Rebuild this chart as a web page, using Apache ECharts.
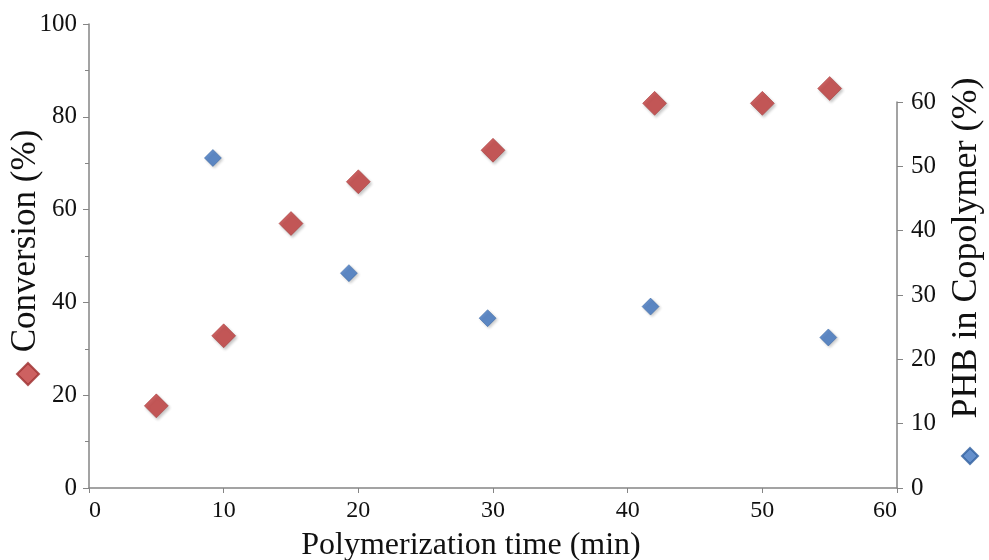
<!DOCTYPE html>
<html>
<head>
<meta charset="utf-8">
<script src="https://cdn.jsdelivr.net/npm/echarts@6/dist/echarts.min.js"></script>
<style>
  html, body { margin: 0; padding: 0; background: #ffffff; }
  #chart { width: 989px; height: 560px; }
</style>
</head>
<body>
<div id="chart"></div>
<script>
// Monomer conversion vs. polymerization time (left axis)
const conversionTime = [5, 10, 15, 20, 30, 42, 50, 55];
const conversionPct  = [17.7, 32.8, 57.0, 66.0, 72.8, 82.9, 82.9, 86.1];

// PHB content of the copolymer vs. polymerization time (right axis)
const phbTime = [9.2, 19.3, 29.6, 41.7, 54.9];
const phbPct  = [51.3, 33.4, 26.4, 28.2, 23.4];

// Axis ranges: [min, max, interval]
const timeAxis       = [0, 60, 10];
const conversionAxis = [0, 100, 20];
const phbAxis        = [0, 60, 10];

const conversionName = 'Conversion (%)';
const phbName = 'PHB in Copolymer (%)';
const timeName = 'Polymerization time (min)';

const FONT = '"Liberation Serif", "Times New Roman", serif';
const AXIS_GREY = '#858585';
const TEXT = '#111111';
const RED = '#c03a3a';
const BLUE = '#3f74bf';

function pairs(xs, ys) {
  return xs.map((x, i) => [x, ys[i]]);
}

const chart = echarts.init(document.getElementById('chart'), null, { renderer: 'canvas' });

chart.setOption({
  animation: false,
  backgroundColor: '#ffffff',
  grid: [
    { left: 89, right: 92, top: 24, bottom: 72, outerBoundsMode: 'none', containLabel: false },
    { left: 89, right: 92, top: 102, bottom: 72, outerBoundsMode: 'none', containLabel: false }
  ],
  legend: [
    {
      data: [conversionName],
      left: 16, top: 362, padding: 0,
      icon: 'diamond', itemWidth: 22, itemHeight: 22,
      formatter: () => '',
      selectedMode: false
    },
    {
      data: [phbName],
      left: 961, top: 447, padding: 0,
      icon: 'diamond', itemWidth: 16, itemHeight: 16,
      formatter: () => '',
      selectedMode: false
    }
  ],
  xAxis: [
    {
      gridIndex: 0,
      type: 'value',
      min: timeAxis[0], max: timeAxis[1], interval: timeAxis[2],
      name: timeName,
      nameLocation: 'middle',
      nameGap: 42,
      nameMoveOverlap: false,
      nameTextStyle: { fontFamily: FONT, fontSize: 32, color: TEXT, padding: [0, 44, 0, 0] },
      axisLine: { show: true, onZero: false, lineStyle: { color: AXIS_GREY, width: 1.5 } },
      axisTick: { show: true, inside: false, length: 5, lineStyle: { color: AXIS_GREY, width: 1 } },
      axisLabel: {
        fontFamily: FONT, fontSize: 24, color: TEXT, margin: 11,
        alignMinLabel: 'left', alignMaxLabel: 'right'
      },
      splitLine: { show: false }
    },
    {
      gridIndex: 1,
      type: 'value',
      min: timeAxis[0], max: timeAxis[1], interval: timeAxis[2],
      show: false
    }
  ],
  yAxis: [
    {
      gridIndex: 0,
      type: 'value',
      position: 'left',
      min: conversionAxis[0], max: conversionAxis[1], interval: conversionAxis[2],
      name: conversionName,
      nameLocation: 'middle',
      nameRotate: 90,
      nameGap: 46,
      nameMoveOverlap: false,
      nameTextStyle: { fontFamily: FONT, fontSize: 35, color: TEXT, padding: [0, 0, 0, 30] },
      axisLine: { show: true, onZero: false, lineStyle: { color: AXIS_GREY, width: 1.5 } },
      axisTick: { show: true, inside: false, length: 6, lineStyle: { color: AXIS_GREY, width: 1 } },
      minorTick: { show: true, splitNumber: 2, length: 4, lineStyle: { color: AXIS_GREY, width: 1 } },
      axisLabel: { fontFamily: FONT, fontSize: 25, color: TEXT, margin: 12 },
      splitLine: { show: false }
    },
    {
      gridIndex: 1,
      type: 'value',
      position: 'right',
      min: phbAxis[0], max: phbAxis[1], interval: phbAxis[2],
      name: phbName,
      nameLocation: 'middle',
      nameRotate: 90,
      nameGap: 52,
      nameTextStyle: { fontFamily: FONT, fontSize: 36, color: TEXT, padding: [0, 0, 0, 94] },
      axisLine: { show: true, onZero: false, lineStyle: { color: AXIS_GREY, width: 1.5 } },
      axisTick: { show: true, inside: false, length: 6, lineStyle: { color: AXIS_GREY, width: 1 } },
      axisLabel: { fontFamily: FONT, fontSize: 25, color: TEXT, margin: 14 },
      splitLine: { show: false }
    }
  ],
  series: [
    {
      name: phbName,
      type: 'scatter',
      xAxisIndex: 1,
      yAxisIndex: 1,
      symbol: 'diamond',
      symbolSize: 17,
      data: pairs(phbTime, phbPct),
      itemStyle: {
        color: BLUE,
        borderColor: '#2f5f9f',
        borderWidth: 0.6,
        shadowBlur: 3,
        shadowOffsetX: 1.5,
        shadowOffsetY: 1.5,
        shadowColor: 'rgba(0,0,0,0.25)'
      }
    },
    {
      name: conversionName,
      type: 'scatter',
      xAxisIndex: 0,
      yAxisIndex: 0,
      symbol: 'diamond',
      symbolSize: 24,
      data: pairs(conversionTime, conversionPct),
      itemStyle: {
        color: RED,
        borderColor: '#9c2e2e',
        borderWidth: 0.6,
        shadowBlur: 3,
        shadowOffsetX: 1.5,
        shadowOffsetY: 2,
        shadowColor: 'rgba(0,0,0,0.28)'
      }
    }
  ]
});
</script>
</body>
</html>
